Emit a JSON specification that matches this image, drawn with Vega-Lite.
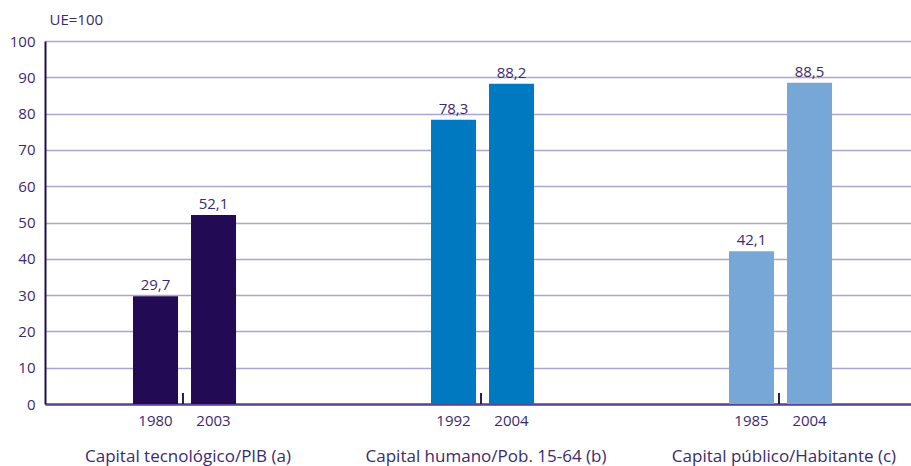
{
  "$schema": "https://vega.github.io/schema/vega-lite/v6.json",
  "width": 866,
  "height": 363,
  "autosize": {"type": "none"},
  "padding": {"left": 45, "top": 41, "right": 0, "bottom": 62},
  "background": "white",
  "config": {
    "locale": {"number": {"decimal": ",", "thousands": ".", "grouping": [3], "currency": ["", " €"]}},
    "font": "Open Sans",
    "view": {"stroke": null}
  },
  "data": {
    "values": [
      {"grupo": "Capital tecnológico/PIB (a)", "serie": "inicial", "anio": "1980", "valor": 29.7},
      {"grupo": "Capital tecnológico/PIB (a)", "serie": "final", "anio": "2003", "valor": 52.1},
      {"grupo": "Capital humano/Pob. 15-64 (b)", "serie": "inicial", "anio": "1992", "valor": 78.3},
      {"grupo": "Capital humano/Pob. 15-64 (b)", "serie": "final", "anio": "2004", "valor": 88.2},
      {"grupo": "Capital público/Habitante (c)", "serie": "inicial", "anio": "1985", "valor": 42.1},
      {"grupo": "Capital público/Habitante (c)", "serie": "final", "anio": "2004", "valor": 88.5}
    ]
  },
  "encoding": {
    "x": {
      "field": "grupo", "type": "nominal", "sort": null,
      "scale": {"paddingInner": 0.265, "paddingOuter": 0.0855},
      "axis": {
        "title": null, "labelAngle": 0, "ticks": false, "labelPadding": 44, "labelLimit": 0,
        "labelOffset": 8, "labelFontSize": 17, "labelColor": "#3a2a70",
        "domainColor": "#58448f", "domainWidth": 2.5, "grid": false
      }
    },
    "y": {
      "field": "valor", "type": "quantitative",
      "scale": {"domain": [0, 100], "nice": false},
      "axis": {
        "values": [0, 10, 20, 30, 40, 50, 60, 70, 80, 90, 100],
        "title": "UE=100", "titleAngle": 0, "titleAlign": "left", "titleBaseline": "middle",
        "titleX": 4, "titleY": -22, "titleFontSize": 15, "titleFontWeight": "normal", "titleColor": "#3a2a70",
        "ticks": false, "labelPadding": 10, "labelFontSize": 15, "labelColor": "#3a2a70",
        "domainColor": "#1e0f50", "domainWidth": 2,
        "grid": true, "gridColor": "#aaa6cf", "gridWidth": 1.5
      }
    }
  },
  "layer": [
    {
      "mark": {"type": "bar"},
      "encoding": {
        "xOffset": {"field": "serie", "type": "nominal", "sort": ["inicial", "final"],
          "scale": {"paddingInner": 0.224, "paddingOuter": 1, "align": 0.539}},
        "color": {
          "field": "grupo", "type": "nominal", "sort": null, "legend": null,
          "scale": {"range": ["#230a55", "#0079c1", "#76a7d7"]}
        }
      }
    },
    {
      "mark": {"type": "text", "baseline": "bottom", "dy": -3, "fontSize": 15, "color": "#3a2a70"},
      "encoding": {
        "xOffset": {"field": "serie", "type": "nominal", "sort": ["inicial", "final"]},
        "text": {"field": "valor", "type": "quantitative", "format": ".1f"}
      }
    },
    {
      "mark": {"type": "text", "baseline": "top", "dy": 10, "fontSize": 15, "color": "#3a2a70"},
      "encoding": {
        "xOffset": {"field": "serie", "type": "nominal", "sort": ["inicial", "final"]},
        "y": {"datum": 0},
        "text": {"field": "anio", "type": "nominal"}
      }
    },
    {
      "mark": {"type": "rule", "color": "#1e0f50", "strokeWidth": 1.5, "xOffset": 3},
      "encoding": {
        "y": {"datum": 0},
        "y2": {"datum": 3}
      }
    }
  ]
}
